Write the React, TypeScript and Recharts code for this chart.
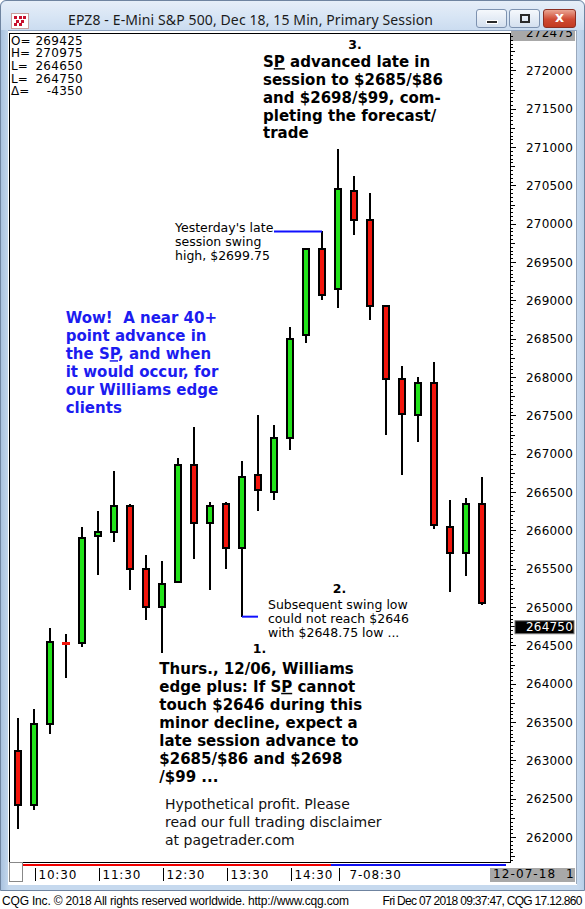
import React from 'react';
import { ComposedChart, Bar, XAxis, YAxis, ReferenceLine } from 'recharts';

// 15 min bars, EPZ8 (prices in ticks as CQG shows them)
const opens = [263125, 262425, 263475, 264550, 264525, 265925, 265975, 266325, 265500, 265000, 265325, 266850, 266100, 266350, 265775, 266725, 266500, 267200, 268550, 269675, 269150, 270425, 270050, 268925, 267975, 267500, 267925, 266050, 265700, 266350];
const highs = [263550, 263675, 264725, 264650, 266050, 266250, 266775, 266350, 265675, 265600, 266950, 267350, 266375, 266375, 266900, 267500, 267375, 268650, 269675, 269900, 270975, 270625, 270400, 268925, 268150, 268000, 268200, 266400, 266425, 266700];
const lows = [262100, 262350, 263350, 264075, 264475, 265425, 265850, 265225, 264825, 264400, 265325, 265625, 265225, 265500, 264875, 266250, 266400, 267050, 268450, 269000, 268900, 269850, 268750, 267250, 266725, 267150, 266025, 265200, 265400, 265025];
const closes = [262425, 263475, 264550, 264525, 265900, 265975, 266325, 265500, 265000, 265300, 266850, 266100, 266325, 265775, 266700, 266525, 267200, 268500, 269675, 269075, 270450, 270050, 268925, 267975, 267525, 267925, 266075, 265700, 266350, 265050];

const timeTickIdx = [1, 5, 9, 13, 17, 20];
const timeTickLabels = ['10:30', '11:30', '12:30', '13:30', '14:30', '7-08:30'];

const priceLabels = [262000, 262500, 263000, 263500, 264000, 264500, 265000, 265500, 266000, 266500, 267000, 267500, 268000, 268500, 269000, 269500, 270000, 270500, 271000, 271500, 272000];
const priceDomain = [261675, 272475];
const lastPrice = 264750;
const swingHigh = 269900;
const swingLow = 264875;

const statLabels = ['O=', 'H=', 'L=', 'L=', '\u0394='];
const statValues = ['269425', '270975', '264650', '264750', '-4350'];

const noteTop = ['S[P] advanced late in', 'session to $2685/$86', 'and $2698/$99, com-', 'pleting the forecast/', 'trade'];
const noteWow = ['Wow!  A near 40+', 'point advance in', 'the S[P], and when', 'it would occur, for', 'our Williams edge', 'clients'];
const noteEdge = ['Thurs., 12/06, Williams', 'edge plus: If S[P] cannot', 'touch $2646 during this', 'minor decline, expect a', 'late session advance to', '$2685/$86 and $2698', '/$99 ...'];
const noteHigh = ["Yesterday's late", 'session swing', 'high, $2699.75'];
const noteLow = ['Subsequent swing low', 'could not reach $2646', 'with $2648.75 low ...'];
const disclaimer = ['Hypothetical profit. Please', 'read our full trading disclaimer', 'at pagetrader.com'];

const GREEN = '#22e31a';
const RED = '#f2150c';
const BLUE = '#1010ff';
const FONT = '"DejaVu Sans", Verdana, sans-serif';

const data = opens.map((o, i) => ({
  i,
  open: o,
  high: highs[i],
  low: lows[i],
  close: closes[i],
  range: [lows[i], highs[i]],
}));

const rightTicks: number[] = [];
for (let v = 261700; v <= 272450; v += 50) rightTicks.push(v);
const leftTicks: number[] = [];
for (let v = 261750; v <= 272400; v += 125) leftTicks.push(v);

const Candle = (p: any) => {
  const { x, y, width, height, payload } = p;
  if (payload == null) return null;
  const cx = Math.round(x + width / 2);
  const top = Math.min(y, y + height);
  const bot = Math.max(y, y + height);
  const k = (bot - top) / (payload.high - payload.low);
  const yOf = (v: number) => top + (payload.high - v) * k;
  const up = payload.close >= payload.open;
  const col = up ? GREEN : RED;
  const b1 = Math.round(yOf(Math.max(payload.open, payload.close)));
  const b2 = Math.round(yOf(Math.min(payload.open, payload.close)));
  return (
    <g>
      <line x1={cx} x2={cx} y1={Math.round(top)} y2={Math.round(bot)} stroke="#000" strokeWidth={2} />
      {b2 - b1 < 3 ? (
        <rect x={cx - 4} y={Math.round((b1 + b2) / 2) - 1} width={8} height={3} fill={col} />
      ) : (
        <rect x={cx - 3} y={b1} width={6} height={b2 - b1} fill={col} stroke="#000" strokeWidth={2} />
      )}
    </g>
  );
};

const PriceTick = (p: any) => {
  const v = p.payload.value;
  const yy = Math.round(p.y) + 0.5;
  const len = v % 500 === 0 ? 6 : v % 250 === 0 ? 5 : 3;
  return (
    <g>
      <line x1={p.x} x2={p.x + len} y1={yy} y2={yy} stroke="#000" />
      {priceLabels.includes(v) && (
        <text x={p.x + 63} y={p.y + 4.5} textAnchor="end" fontSize={12} fontFamily={FONT} fill="#000" letterSpacing={0.2}>
          {v}
        </text>
      )}
      {v === lastPrice && (
        <g>
          <rect x={p.x + 5} y={p.y - 5.5} width={59} height={13} fill="#000" stroke="#777" />
          <text x={p.x + 63} y={p.y + 5} textAnchor="end" fontSize={12} fontFamily={FONT} fill="#fff" letterSpacing={0.2}>
            {v}
          </text>
        </g>
      )}
    </g>
  );
};

const LeftTick = (p: any) => {
  const v = p.payload.value;
  const yy = Math.round(p.y) + 0.5;
  const len = v % 250 === 0 ? 6 : 3;
  return <line x1={p.x} x2={p.x + len} y1={yy} y2={yy} stroke="#000" />;
};

const TimeTick = (p: any) => {
  const k = timeTickIdx.indexOf(p.payload.value);
  const x = Math.round(p.x) + 1.5;
  const label = timeTickLabels[k];
  return (
    <g>
      <line x1={x} x2={x} y1={p.y + 6} y2={p.y + 19} stroke="#000" />
      <text x={x + (label.includes('-') ? 10 : 3)} y={p.y + 17} fontSize={12} fontFamily={FONT} fill="#000" letterSpacing={0.8}>
        {label}
      </text>
    </g>
  );
};

const renderLine = (s: string) =>
  s.split(/(\[[^\]]*\])/).map((part, k) =>
    part.startsWith('[') ? (
      <tspan key={k} style={{ textDecoration: 'underline' }}>{part.slice(1, -1)}</tspan>
    ) : (
      <tspan key={k}>{part}</tspan>
    )
  );

const Block = ({ lines, x, y, lh, size, bold, color }: any) => (
  <g>
    {lines.map((l: string, k: number) => (
      <text
        key={k}
        x={x}
        y={y + k * lh + size * 0.34}
        fontSize={size}
        fontWeight={bold ? 'bold' : 'normal'}
        fontFamily={FONT}
        fill={color}
        style={{ whiteSpace: 'pre' }}
      >
        {renderLine(l)}
      </text>
    ))}
  </g>
);

export default function App() {
  return (
    <div style={{ position: 'absolute', left: 0, top: 0, width: 585, height: 909, overflow: 'hidden', background: '#fff', fontFamily: FONT }}>
      {/* window frame */}
      <div style={{ position: 'absolute', left: 0, top: 0, width: 583, height: 889, background: 'linear-gradient(90deg, #a9c2df 0px, #c6d9ee 8px, #c6d9ee 577px, #b3cbe6 585px)', border: '1px solid #6f84a0', borderRadius: '6px 6px 0 0' }} />
      <div style={{ position: 'absolute', left: 1, top: 1, width: 583, height: 29, background: 'linear-gradient(180deg, #e6eef8 0%, #d6e4f4 60%, #cbdcf0 100%)', borderRadius: '6px 6px 0 0' }} />
      {/* icon */}
      <div style={{ position: 'absolute', left: 11, top: 13, width: 16, height: 14, background: '#fff', border: '1px solid #c9a0a0' }}>
        {[[2, 2], [7, 2], [4, 6], [9, 6], [2, 9], [7, 9], [11, 2]].map(([a, b], k) => (
          <div key={k} style={{ position: 'absolute', left: a, top: b, width: 3, height: 3, background: '#c8102e' }} />
        ))}
      </div>
      {/* buttons */}
      <div style={{ position: 'absolute', left: 476, top: 9, width: 29, height: 17, borderRadius: 3, border: '1px solid #7d92b0', background: 'linear-gradient(#f5f8fc, #d4e0ef)' }}>
        <div style={{ position: 'absolute', left: 9, top: 10, width: 10, height: 2, background: '#2a2a2a', border: '1px solid #fff' }} />
      </div>
      <div style={{ position: 'absolute', left: 509, top: 9, width: 29, height: 17, borderRadius: 3, border: '1px solid #7d92b0', background: 'linear-gradient(#f5f8fc, #d4e0ef)' }}>
        <div style={{ position: 'absolute', left: 10, top: 4, width: 6, height: 5, border: '2px solid #2a2a2a' }} />
      </div>
      <div style={{ position: 'absolute', left: 543, top: 9, width: 31, height: 17, borderRadius: 3, border: '1px solid #8b2e22', background: 'linear-gradient(#eaa593, #cf4a33 55%, #c23a22)' }}>
        <div style={{ position: 'absolute', left: 0, top: -1, width: 31, textAlign: 'center', color: '#fff', fontWeight: 'bold', fontSize: 14, fontFamily: FONT }}>x</div>
      </div>
      {/* client area */}
      <div style={{ position: 'absolute', left: 8, top: 30, width: 569, height: 854, background: '#fff', borderTop: '1px solid #8ea3bf' }} />
      <div style={{ position: 'absolute', left: 576, top: 30, width: 1, height: 854, background: '#9aa9bd' }} />
      {/* plot frame */}
      <div style={{ position: 'absolute', left: 9, top: 33, width: 500, height: 828, border: '1px solid #000' }} />
      {/* bottom strip */}
      <div style={{ position: 'absolute', left: 9, top: 862, width: 12, height: 18, background: '#fff', border: '1px solid #888' }} />
      <div style={{ position: 'absolute', left: 23, top: 864, width: 308, height: 2, background: '#f00000' }} />
      <div style={{ position: 'absolute', left: 331, top: 864, width: 175, height: 2, background: '#1010f0' }} />
      <div style={{ position: 'absolute', left: 490, top: 868, width: 85, height: 14, background: '#a8a8a8', overflow: 'hidden' }}>
        <div style={{ position: 'absolute', left: 3, top: -1, fontSize: 12, letterSpacing: 1.1, whiteSpace: 'pre', color: '#000' }}>12-07-18  11</div>
      </div>
      <div style={{ position: 'absolute', left: 511, top: 31, width: 64, height: 10, background: '#a8a8a8', overflow: 'hidden' }}>
        <div style={{ position: 'absolute', right: 2, top: -5, fontSize: 12, letterSpacing: 0.2, color: '#000' }}>272475</div>
      </div>

      <div style={{ position: 'absolute', left: 0, top: 0 }}>
        <ComposedChart width={585} height={909} data={data} margin={{ top: 34, right: 8, bottom: 25, left: 10 }}>
          <XAxis
            dataKey="i"
            type="category"
            height={22}
            padding={{ left: 0, right: 20 }}
            ticks={timeTickIdx}
            interval={0}
            tickSize={0}
            tickMargin={0}
            axisLine={false}
            tickLine={false}
            tick={(p: any) => <TimeTick {...p} />}
          />
          <YAxis
            yAxisId="r"
            orientation="right"
            type="number"
            domain={priceDomain}
            allowDataOverflow
            ticks={rightTicks}
            interval={0}
            width={67}
            tickSize={0}
            tickMargin={0}
            axisLine={false}
            tickLine={false}
            tick={(p: any) => <PriceTick {...p} />}
          />
          <YAxis
            yAxisId="l"
            orientation="left"
            type="number"
            domain={priceDomain}
            allowDataOverflow
            ticks={leftTicks}
            interval={0}
            width={0}
            tickSize={0}
            tickMargin={0}
            axisLine={false}
            tickLine={false}
            tick={(p: any) => <LeftTick {...p} />}
          />
          <Bar dataKey="range" yAxisId="r" isAnimationActive={false} shape={(p: any) => <Candle {...p} />} />
          <ReferenceLine yAxisId="r" segment={[{ x: 16, y: swingHigh }, { x: 19, y: swingHigh }]} stroke={BLUE} strokeWidth={2} />
          <ReferenceLine yAxisId="r" segment={[{ x: 14, y: swingLow }, { x: 15, y: swingLow }]} stroke={BLUE} strokeWidth={2} />
        </ComposedChart>
      </div>

      <svg width={585} height={909} style={{ position: 'absolute', left: 0, top: 0, pointerEvents: 'none' }}>
        <text x={68} y={25} fontSize={14} fontFamily='"Noto Sans", sans-serif' fill="#1b1b1b" textLength={365}>
          EPZ8 - E-Mini S&amp;P 500, Dec 18, 15 Min, Primary Session
        </text>
        {statLabels.map((l, k) => (
          <g key={k}>
            <text x={11} y={44.5 + k * 12.7} fontSize={12} fontFamily={FONT} fill="#000">{l}</text>
            <text x={83} y={44.5 + k * 12.7} fontSize={12} fontFamily={FONT} fill="#000" textAnchor="end" letterSpacing={0.3}>{statValues[k]}</text>
          </g>
        ))}
        <text x={355} y={48.5} textAnchor="middle" fontSize={12.5} fontWeight="bold" fontFamily={FONT} fill="#000">3.</text>
        <Block lines={noteTop} x={263} y={62} lh={17.8} size={15} bold color="#000" />
        <Block lines={noteHigh} x={175} y={227.7} lh={13.8} size={12.5} color="#000" />
        <Block lines={noteWow} x={65.7} y={318.3} lh={17.9} size={15} bold color="#1c1cf0" />
        <text x={339.5} y={593} textAnchor="middle" fontSize={12.5} fontWeight="bold" fontFamily={FONT} fill="#000">2.</text>
        <Block lines={noteLow} x={268} y={604.7} lh={14} size={12.5} color="#000" />
        <text x={259.5} y={652.6} textAnchor="middle" fontSize={12.5} fontWeight="bold" fontFamily={FONT} fill="#000">1.</text>
        <Block lines={noteEdge} x={159.3} y={668.7} lh={18} size={15} bold color="#000" />
        <Block lines={disclaimer} x={165} y={804} lh={18} size={14} color="#111" />
        <text x={2} y={905} fontSize={12} fontFamily='"Liberation Sans", Arial, sans-serif' fill="#000" textLength={347}>
          CQG Inc. © 2018 All rights reserved worldwide. http://www.cqg.com
        </text>
        <text x={382.5} y={905} fontSize={12} fontFamily='"Liberation Sans", Arial, sans-serif' fill="#000" textLength={200}>
          Fri Dec 07 2018 09:37:47, CQG 17.12.860
        </text>
      </svg>
    </div>
  );
}
